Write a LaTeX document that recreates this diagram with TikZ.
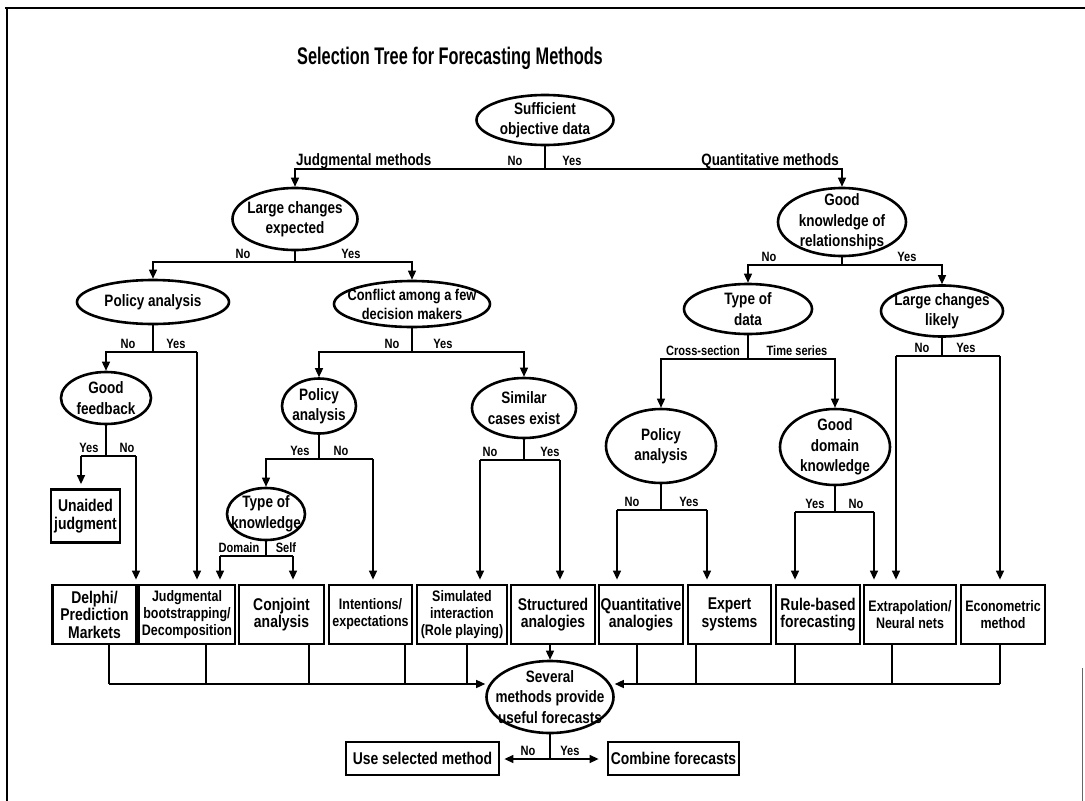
\documentclass[tikz,border=0pt]{standalone}
\usepackage{fontspec}
\setmainfont{Liberation Sans}[FakeStretch=0.82]
\newfontfamily\headfont{Liberation Sans}[FakeStretch=0.68]
\usetikzlibrary{shapes.geometric,arrows.meta}

% font sizes used in the chart
\newcommand\ftTitle{\headfont\fontsize{24}{28}\selectfont\bfseries}
\newcommand\ftEll{\fontsize{16.5}{20.5}\selectfont\bfseries}
\newcommand\ftEllS{\fontsize{15.6}{19}\selectfont\bfseries}
\newcommand\ftBox{\fontsize{17}{17.5}\selectfont\bfseries}
\newcommand\ftBoxS{\fontsize{15.2}{17}\selectfont\bfseries}
\newcommand\ftLab{\fontsize{13.5}{15}\selectfont\bfseries}
\newcommand\ftLabL{\fontsize{16.4}{18}\selectfont\bfseries}

\begin{document}
\begin{tikzpicture}[x=1pt,y=-1pt,
  dec/.style={ellipse,draw,line width=2.6pt,inner sep=0pt},
  etxt/.style={align=center,inner sep=0pt,font=\ftEll},
  bx/.style={rectangle,draw,line width=2.8pt,inner sep=0pt,align=center,font=\ftBox},
  lab/.style={inner sep=0pt,anchor=base,font=\ftLab},
  ln/.style={line width=1.4pt},
  arr/.style={ln,-{Triangle[length=9pt,width=8pt]}},
  arrb/.style={arr,shorten >=4pt}]
\useasboundingbox (0,0) rectangle (1085,801);

% page frame
\draw[line width=1.8pt] (5,8) -- (1085,8);
\draw[line width=1.8pt] (7,8) -- (7,801);
\draw[line width=1pt,black!60] (1082,668) -- (1082,801);

\node[font=\ftTitle] (title) at (450,58) {Selection Tree for Forecasting Methods};

% ---------- decision ellipses ----------
\node[dec,minimum width=137pt,minimum height=50pt] (suff) at (545,120) {};
\node[etxt] (sufft) at (suff.center) {Sufficient\\objective data};

\node[dec,minimum width=125pt,minimum height=62pt] (lce) at (295,219) {};
\node[etxt] (lcet) at (lce.center) {Large changes\\expected};

\node[dec,minimum width=152pt,minimum height=44pt] (pa1) at (153,302) {};
\node[etxt] (pa1t) at (pa1.center) {Policy analysis};

\node[dec,minimum width=156pt,minimum height=46pt] (cfl) at (412,304) {};
\node[etxt,font=\ftEllS] (cflt) at (cfl.center) {Conflict among a few\\decision makers};

\node[dec,minimum width=90pt,minimum height=52pt] (gfb) at (106,398) {};
\node[etxt] (gfbt) at (gfb.center) {Good\\feedback};

\node[dec,minimum width=74pt,minimum height=55pt] (pa2) at (319,406) {};
\node[etxt] (pa2t) at (pa2.center) {Policy\\analysis};

\node[dec,minimum width=78pt,minimum height=52pt] (tok) at (266,514) {};
\node[etxt] (tokt) at (tok.center) {Type of\\knowledge};

\node[dec,minimum width=104pt,minimum height=60pt] (sim) at (524,408) {};
\node[etxt] (simt) at (sim.center) {Similar\\cases exist};

\node[dec,minimum width=128pt,minimum height=68pt] (gkr) at (842,222) {};
\node[etxt] (gkrt) at (gkr.center) {Good\\knowledge of\\relationships};

\node[dec,minimum width=128pt,minimum height=50pt] (tod) at (748,309) {};
\node[etxt] (todt) at (tod.center) {Type of\\data};

\node[dec,minimum width=122pt,minimum height=51pt] (lcl) at (942,311) {};
\node[etxt] (lclt) at (lcl.center) {Large changes\\likely};

\node[dec,minimum width=110pt,minimum height=74pt] (pa3) at (661,446) {};
\node[etxt] (pa3t) at (pa3.center) {Policy\\analysis};

\node[dec,minimum width=110pt,minimum height=76pt] (gdk) at (835,447) {};
\node[etxt] (gdkt) at (gdk.center) {Good\\domain\\knowledge};

\node[dec,minimum width=127pt,minimum height=72pt] (sev) at (550,697) {};
\node[etxt] (sevt) at (sev.center) {Several\\methods provide\\useful forecasts};

% ---------- method boxes ----------
\node[bx,minimum width=69pt,minimum height=53pt] (una) at (85.5,516) {Unaided\\judgment};
\node[bx,minimum width=84pt,minimum height=59pt] (delphi) at (94.5,614.5) {Delphi/\\Prediction\\Markets};
\node[bx,minimum width=96pt,minimum height=59pt,font=\ftBoxS] (jbd) at (187,614.5) {Judgmental\\bootstrapping/\\Decomposition};
\node[bx,minimum width=85pt,minimum height=59pt] (conj) at (281.5,614.5) {Conjoint\\analysis};
\node[bx,minimum width=83pt,minimum height=59pt,font=\ftBoxS] (inte) at (370.5,614.5) {Intentions/\\expectations};
\node[bx,minimum width=90pt,minimum height=59pt,font=\ftBoxS] (simi) at (462,614.5) {Simulated\\interaction\\(Role playing)};
\node[bx,minimum width=84pt,minimum height=59pt] (stru) at (553,614.5) {Structured\\analogies};
\node[bx,minimum width=84pt,minimum height=59pt] (quan) at (641,614.5) {Quantitative\\analogies};
\node[bx,minimum width=83pt,minimum height=59pt] (expe) at (729.5,614.5) {Expert\\systems};
\node[bx,minimum width=84pt,minimum height=59pt] (rule) at (818,614.5) {Rule-based\\forecasting};
\node[bx,minimum width=92pt,minimum height=59pt,font=\ftBoxS] (extr) at (910,614.5) {Extrapolation/\\Neural nets};
\node[bx,minimum width=84pt,minimum height=59pt,font=\ftBoxS] (econ) at (1003,614.5) {Econometric\\method};
\node[bx,minimum width=153pt,minimum height=33pt] (use) at (422.5,758.5) {Use selected method};
\node[bx,minimum width=131pt,minimum height=33pt] (comb) at (673.5,758.5) {Combine forecasts};

% ---------- branch points ----------
\coordinate (suffJ) at (545,169);
\coordinate (lceJ) at (295,262);
\coordinate (pa1J) at (153,352);  \coordinate (pa1R) at (197,352);
\coordinate (gfbJ) at (106,456);  \coordinate (gfbL) at (81,456);  \coordinate (gfbR) at (136,456);
\coordinate (cflJ) at (412,352);
\coordinate (pa2J) at (319,459);  \coordinate (pa2R) at (373,459);
\coordinate (tokJ) at (266,556);  \coordinate (tokL) at (220,556);  \coordinate (tokR) at (293,556);
\coordinate (simJ) at (524,460);  \coordinate (simL) at (480,460);  \coordinate (simR) at (560,460);
\coordinate (gkrJ) at (842,265);
\coordinate (todJ) at (748,359);
\coordinate (lclJ) at (942,356);  \coordinate (lclL) at (896,356);  \coordinate (lclR) at (1000,356);
\coordinate (pa3J) at (661,510);  \coordinate (pa3L) at (617,510);  \coordinate (pa3R) at (707,510);
\coordinate (gdkJ) at (835,512);  \coordinate (gdkL) at (795,512);  \coordinate (gdkR) at (874,512);
\coordinate (sevJ) at (550,759);

% ---------- connectors ----------
\draw[ln] (suff) -- (suffJ);
\draw[arr] (suffJ) -| (lce);
\draw[arr] (suffJ) -| (gkr);

\draw[ln] (lce) -- (lceJ);
\draw[arr] (lceJ) -| (pa1);
\draw[arr] (lceJ) -| (cfl);

\draw[ln] (pa1) -- (pa1J);
\draw[arr] (pa1J) -| (gfb);
\draw[ln] (pa1J) -- (pa1R);
\draw[arrb] (pa1R) -- (pa1R |- jbd.north);

\draw[ln] (gfb) -- (gfbJ);
\draw[ln] (gfbL) -- (gfbR);
\draw[arrb] (gfbL) -- (gfbL |- una.north);
\draw[arrb] (gfbR) -- (gfbR |- delphi.north);

\draw[ln] (cfl) -- (cflJ);
\draw[arr] (cflJ) -| (pa2);
\draw[arr] (cflJ) -| (sim);

\draw[ln] (pa2) -- (pa2J);
\draw[arr] (pa2J) -| (tok);
\draw[ln] (pa2J) -- (pa2R);
\draw[arrb] (pa2R) -- (pa2R |- inte.north);

\draw[ln] (tok) -- (tokJ);
\draw[ln] (tokL) -- (tokR);
\draw[arrb] (tokL) -- (tokL |- jbd.north);
\draw[arrb] (tokR) -- (tokR |- conj.north);

\draw[ln] (sim) -- (simJ);
\draw[ln] (simL) -- (simR);
\draw[arrb] (simL) -- (simL |- simi.north);
\draw[arrb] (simR) -- (simR |- stru.north);

\draw[ln] (gkr) -- (gkrJ);
\draw[arr] (gkrJ) -| (tod);
\draw[arr] (gkrJ) -| (lcl);

\draw[ln] (tod) -- (todJ);
\draw[arr] (todJ) -| (pa3);
\draw[arr] (todJ) -| (gdk);

\draw[ln] (lcl) -- (lclJ);
\draw[ln] (lclL) -- (lclR);
\draw[arrb] (lclL) -- (lclL |- extr.north);
\draw[arrb] (lclR) -- (lclR |- econ.north);

\draw[ln] (pa3) -- (pa3J);
\draw[ln] (pa3L) -- (pa3R);
\draw[arrb] (pa3L) -- (pa3L |- quan.north);
\draw[arrb] (pa3R) -- (pa3R |- expe.north);

\draw[ln] (gdk) -- (gdkJ);
\draw[ln] (gdkL) -- (gdkR);
\draw[arrb] (gdkL) -- (gdkL |- rule.north);
\draw[arrb] (gdkR) -- (gdkR |- extr.north);

% collecting lines under the method boxes
\coordinate (cDel) at (109,684);
\coordinate (cJbd) at (206,684);
\coordinate (cCon) at (309,684);
\coordinate (cInt) at (405,684);
\coordinate (cSim) at (467,684);
\coordinate (cQua) at (637,684);
\coordinate (cExp) at (696,684);
\coordinate (cRul) at (795,684);
\coordinate (cExt) at (892,684);
\coordinate (cEco) at (1000,684);
\draw[ln] (cDel |- delphi.south) -- (cDel);
\draw[ln] (cJbd |- jbd.south) -- (cJbd);
\draw[ln] (cCon |- conj.south) -- (cCon);
\draw[ln] (cInt |- inte.south) -- (cInt);
\draw[ln] (cSim |- simi.south) -- (cSim);
\draw[ln] (cQua |- quan.south) -- (cQua);
\draw[ln] (cExp |- expe.south) -- (cExp);
\draw[ln] (cRul |- rule.south) -- (cRul);
\draw[ln] (cExt |- extr.south) -- (cExt);
\draw[ln] (cEco |- econ.south) -- (cEco);
\draw[arr] (cDel) -- (cDel -| sev.west);
\draw[arr] (cEco) -- (cEco -| sev.east);
\draw[arr] (sev.north |- stru.south) -- (sev.north);

\draw[ln] (sev) -- (sevJ);
\draw[arrb] (sevJ) -- (sevJ -| use.east);
\draw[arr,shorten >=8pt] (sevJ) -- (sevJ -| comb.west);

% ---------- branch labels ----------
\node[lab,anchor=base west,font=\ftLabL] (lJud) at (296,165) {Judgmental methods};
\node[lab] (lSN) at (515,165) {No};
\node[lab] (lSY) at (572,165) {Yes};
\node[lab,anchor=base east,font=\ftLabL] (lQua) at (839,165) {Quantitative methods};

\node[lab] (lLN) at (243,258) {No};
\node[lab] (lLY) at (351,258) {Yes};

\node[lab] (lP1N) at (128,348) {No};
\node[lab] (lP1Y) at (176,348) {Yes};

\node[lab] (lGY) at (89,452) {Yes};
\node[lab] (lGN) at (127,452) {No};

\node[lab] (lCN) at (392,348) {No};
\node[lab] (lCY) at (443,348) {Yes};

\node[lab] (lP2Y) at (300,455) {Yes};
\node[lab] (lP2N) at (341,455) {No};

\node[lab] (lTD) at (239,552) {Domain};
\node[lab] (lTS) at (286,552) {Self};

\node[lab] (lSiN) at (490,456) {No};
\node[lab] (lSiY) at (550,456) {Yes};

\node[lab] (lKN) at (769,261) {No};
\node[lab] (lKY) at (907,261) {Yes};

\node[lab] (lDC) at (703,355) {Cross-section};
\node[lab] (lDT) at (797,355) {Time series};

\node[lab] (lLcN) at (922,352) {No};
\node[lab] (lLcY) at (966,352) {Yes};

\node[lab] (lP3N) at (632,506) {No};
\node[lab] (lP3Y) at (689,506) {Yes};

\node[lab] (lGdY) at (815,508) {Yes};
\node[lab] (lGdN) at (856,508) {No};

\node[lab] (lSvN) at (528,755) {No};
\node[lab] (lSvY) at (570,755) {Yes};
\end{tikzpicture}
\end{document}
